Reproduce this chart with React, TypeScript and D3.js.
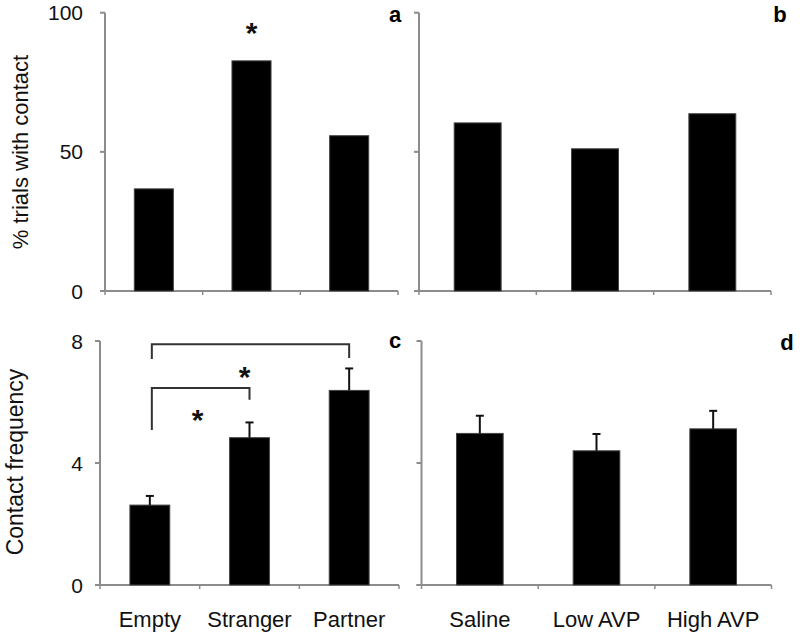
import React from "react";
import * as d3 from "d3";

const catsSocial = ["Empty", "Stranger", "Partner"];
const catsDrug = ["Saline", "Low AVP", "High AVP"];
const pctSocial = [36.7, 82.7, 55.8];
const pctDrug = [60.4, 51.1, 63.7];
const freqSocial = [2.62, 4.83, 6.38];
const freqSocialErr = [0.3, 0.5, 0.72];
const freqDrug = [4.97, 4.4, 5.12];
const freqDrugErr = [0.58, 0.55, 0.59];
const pctTicks = [0, 50, 100];
const freqTicks = [0, 4, 8];
// significance brackets in panel c: [from, to, level, leftLegEnd, rightLegEnd]
const brackets = [
  [0, 2, 7.89, 7.41, 7.44],
  [0, 1, 6.46, 5.08, 6.07],
];
// asterisks: [category position, value]
const starsA = [[1, 95.3]];
const starsC = [[0.95, 7.05], [0.48, 5.64]];

const FONT = "'Liberation Sans', Arial, Helvetica, sans-serif";
const AXIS = "#8c8c8c";

type PanelProps = {
  x0: number; x1: number; yTop: number; yBottom: number;
  domain: [number, number]; ticks: number[] | null;
  cats: string[]; values: number[]; errs?: number[];
  showCats: boolean; label: string; labelX: number; labelY: number;
  stars?: number[][]; brk?: number[][];
};

function Panel(p: PanelProps) {
  const x = d3.scaleBand<string>().domain(p.cats).range([p.x0, p.x1]).paddingInner(0.6).paddingOuter(0.3);
  const y = d3.scaleLinear().domain(p.domain).range([p.yBottom, p.yTop]);
  const step = (p.x1 - p.x0) / p.cats.length;
  const cx = (i: number) => (x(p.cats[Math.floor(i)]) as number) + x.bandwidth() / 2 + (i - Math.floor(i)) * step;
  const boundaries = d3.range(p.cats.length + 1).map((i) => p.x0 + i * step);
  const yt = p.ticks ?? [];
  return (
    <g>
      <line x1={p.x0} x2={p.x0} y1={p.yTop} y2={p.yBottom} stroke={AXIS} strokeWidth={2} />
      {[p.domain[0], (p.domain[0] + p.domain[1]) / 2, p.domain[1]].map((t, i) => (
        <line key={i} x1={p.x0 - 5} x2={p.x0} y1={y(t)} y2={y(t)} stroke={AXIS} strokeWidth={2} />
      ))}
      {yt.map((t) => (
        <text key={t} x={83} y={y(t) + 7.5} textAnchor="end" fontSize={21} fontFamily={FONT} fill="#111">{t}</text>
      ))}
      <line x1={p.x0 - 5} x2={p.x1} y1={p.yBottom} y2={p.yBottom} stroke={AXIS} strokeWidth={2} />
      {boundaries.map((b, i) => (
        <line key={i} x1={b} x2={b} y1={p.yBottom} y2={p.yBottom + 4} stroke={AXIS} strokeWidth={1.5} />
      ))}
      {p.cats.map((c, i) => (
        <rect key={c} x={x(c)} y={y(p.values[i])} width={x.bandwidth()} height={p.yBottom - y(p.values[i])}
          fill="#000" stroke="#444" strokeWidth={1} />
      ))}
      {p.errs && p.cats.map((c, i) => {
        const xc = cx(i);
        const top = y(p.values[i] + p.errs![i]);
        return (
          <g key={"e" + c}>
            <line x1={xc} x2={xc} y1={y(p.values[i])} y2={top} stroke="#111" strokeWidth={2} />
            <line x1={xc - 4} x2={xc + 4} y1={top} y2={top} stroke="#111" strokeWidth={2} />
          </g>
        );
      })}
      {p.showCats && p.cats.map((c, i) => (
        <text key={"l" + c} x={cx(i)} y={627} textAnchor="middle" fontSize={22} fontFamily={FONT} fill="#111">{c}</text>
      ))}
      {p.brk && p.brk.map((b, i) => {
        const xa = cx(b[0]) + 2;
        const xb = cx(b[1]);
        return (
          <path key={"b" + i}
            d={`M${xa},${y(b[3])}V${y(b[2])}H${xb}V${y(b[4])}`}
            fill="none" stroke="#333" strokeWidth={2} />
        );
      })}
      {p.stars && p.stars.map((s, i) => (
        <text key={"s" + i} x={cx(s[0])} y={y(s[1]) + 17} textAnchor="middle" fontSize={30} fontWeight="bold" fontFamily={FONT} fill="#111">*</text>
      ))}
      <text x={p.labelX} y={p.labelY} textAnchor="middle" fontSize={22} fontWeight="bold" fontFamily={FONT} fill="#000">{p.label}</text>
    </g>
  );
}

export default function App() {
  return (
    <svg width={800} height={641} style={{ position: "absolute", left: 0, top: 0, background: "#fff" }}>
      <rect width={800} height={641} fill="#fff" />
      <Panel x0={105} x1={398} yTop={12.7} yBottom={291} domain={[0, 100]} ticks={pctTicks}
        cats={catsSocial} values={pctSocial} showCats={false} label="a" labelX={395} labelY={22} stars={starsA} />
      <Panel x0={419} x1={771} yTop={12.7} yBottom={291} domain={[0, 100]} ticks={null}
        cats={catsDrug} values={pctDrug} showCats={false} label="b" labelX={780} labelY={22} />
      <Panel x0={100} x1={399} yTop={341} yBottom={585} domain={[0, 8]} ticks={freqTicks}
        cats={catsSocial} values={freqSocial} errs={freqSocialErr} showCats={true} label="c" labelX={395} labelY={348}
        stars={starsC} brk={brackets} />
      <Panel x0={421.5} x1={771.5} yTop={341} yBottom={585} domain={[0, 8]} ticks={null}
        cats={catsDrug} values={freqDrug} errs={freqDrugErr} showCats={true} label="d" labelX={787} labelY={350} />
      <text transform="translate(28,152) rotate(-90)" textAnchor="middle" fontSize={22} fontFamily={FONT} fill="#111">% trials with contact</text>
      <text transform="translate(23,462) rotate(-90)" textAnchor="middle" fontSize={23} fontFamily={FONT} fill="#111">Contact frequency</text>
    </svg>
  );
}
